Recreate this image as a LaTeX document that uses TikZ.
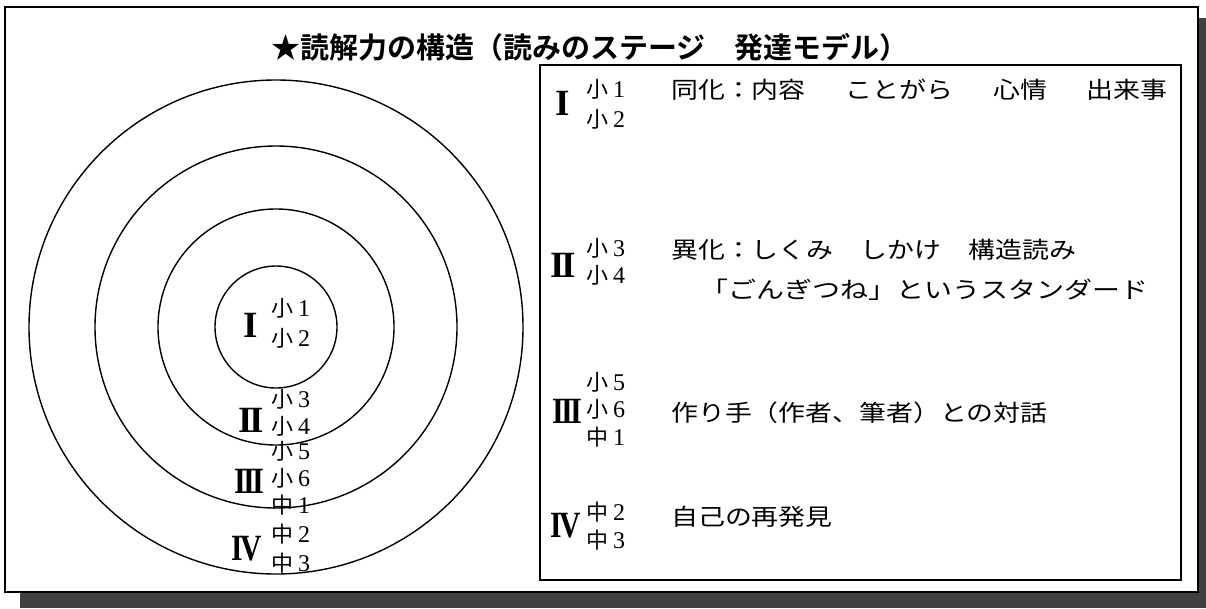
\documentclass[tikz,border=0pt]{standalone}
\usepackage{fontspec}
\usepackage{graphicx}
\setmainfont{Liberation Serif}
\newfontfamily\jptitle{Noto Sans CJK JP Bold}
\newfontfamily\jpbody[FakeStretch=1.17]{Noto Sans CJK JP}
\newfontfamily\jplab{Noto Sans CJK JP}
\newcommand\lab[2]{{\jplab\fontsize{22}{22}\selectfont #1}\hspace{5pt}{\fontsize{24}{24}\selectfont #2}}
\newcommand\rn[1]{{\fontsize{37}{37}\selectfont\bfseries #1}}
\newcommand\rnI{\rn{I}}
\newcommand\rnII{\rn{I\kern-3pt I}}
\newcommand\rnIII{\scalebox{0.82}[1]{\rn{I\kern-3pt I\kern-3pt I}}}
\newcommand\rnIV{\scalebox{0.8}[1]{\rn{I\kern-3pt V}}}
\begin{document}
\begin{tikzpicture}[x=1pt,y=-1pt,
  txt/.style={inner sep=0pt, anchor=base west},
  body/.style={txt, font=\jpbody\fontsize{23}{23}\selectfont},
  ring/.style={circle, draw, line width=1.4pt, inner sep=0pt},
  boxline/.style={draw, line width=2pt}]
\useasboundingbox (0,0) rectangle (1206,608);
% shadow and frame
\fill[black!75] (20,18) rectangle (1206,608);
\path[draw, line width=2.4pt, fill=white] (5,7) rectangle (1198,592);
% title
\node[inner sep=0pt, font=\jptitle\fontsize{29}{29}\selectfont] (title) at (590,47) {★読解力の構造（読みのステージ　発達モデル）};
% circles
\node[ring, minimum size=494pt] (c4) at (276,327) {};
\node[ring, minimum size=362pt] (c3) at (276,327) {};
\node[ring, minimum size=236pt] (c2) at (276,327) {};
\node[ring, minimum size=122pt] (c1) at (276,327) {};
% left labels
\node[txt] (lI) at (243,337) {\rnI};
\node[txt] (l11) at (271,316) {\lab{小}{1}};
\node[txt] (l12) at (271,346) {\lab{小}{2}};
\node[txt] (lII) at (238,432) {\rnII};
\node[txt] (l21) at (271,407) {\lab{小}{3}};
\node[txt] (l22) at (271,434) {\lab{小}{4}};
\node[txt] (lIII) at (234,493) {\rnIII};
\node[txt] (l31) at (271,459) {\lab{小}{5}};
\node[txt] (l32) at (271,486) {\lab{小}{6}};
\node[txt] (l33) at (271,513) {\lab{中}{1}};
\node[txt] (lIV) at (231,560) {\rnIV};
\node[txt] (l41) at (271,542) {\lab{中}{2}};
\node[txt] (l42) at (271,571) {\lab{中}{3}};
% right box
\path[boxline] (540,65) rectangle (1181,580);
\node[txt] (rI) at (555,115) {\rnI};
\node[txt] (r11) at (586,97) {\lab{小}{1}};
\node[txt] (r12) at (586,127) {\lab{小}{2}};
\node[body] (t1) at (671,98) {同化：内容\hspace{13pt}　ことがら\hspace{13pt}　心情\hspace{13pt}　出来事};
\node[txt] (rII) at (550,277) {\rnII};
\node[txt] (r21) at (586,256) {\lab{小}{3}};
\node[txt] (r22) at (586,283) {\lab{小}{4}};
\node[body] (t2) at (671,258) {異化：しくみ　しかけ　構造読み};
\node[body] (t2b) at (700,298) {\scalebox{1.04}[1]{「ごんぎつね」というスタンダード}};
\node[txt] (rIII) at (552,423) {\rnIII};
\node[txt] (r31) at (586,390) {\lab{小}{5}};
\node[txt] (r32) at (586,417) {\lab{小}{6}};
\node[txt] (r33) at (586,445) {\lab{中}{1}};
\node[body] (t3) at (671,421) {作り手（作者、筆者）との対話};
\node[txt] (rIV) at (550,537) {\rnIV};
\node[txt] (r41) at (586,520) {\lab{中}{2}};
\node[txt] (r42) at (586,548) {\lab{中}{3}};
\node[body] (t4) at (671,525) {自己の再発見};
\end{tikzpicture}
\end{document}
